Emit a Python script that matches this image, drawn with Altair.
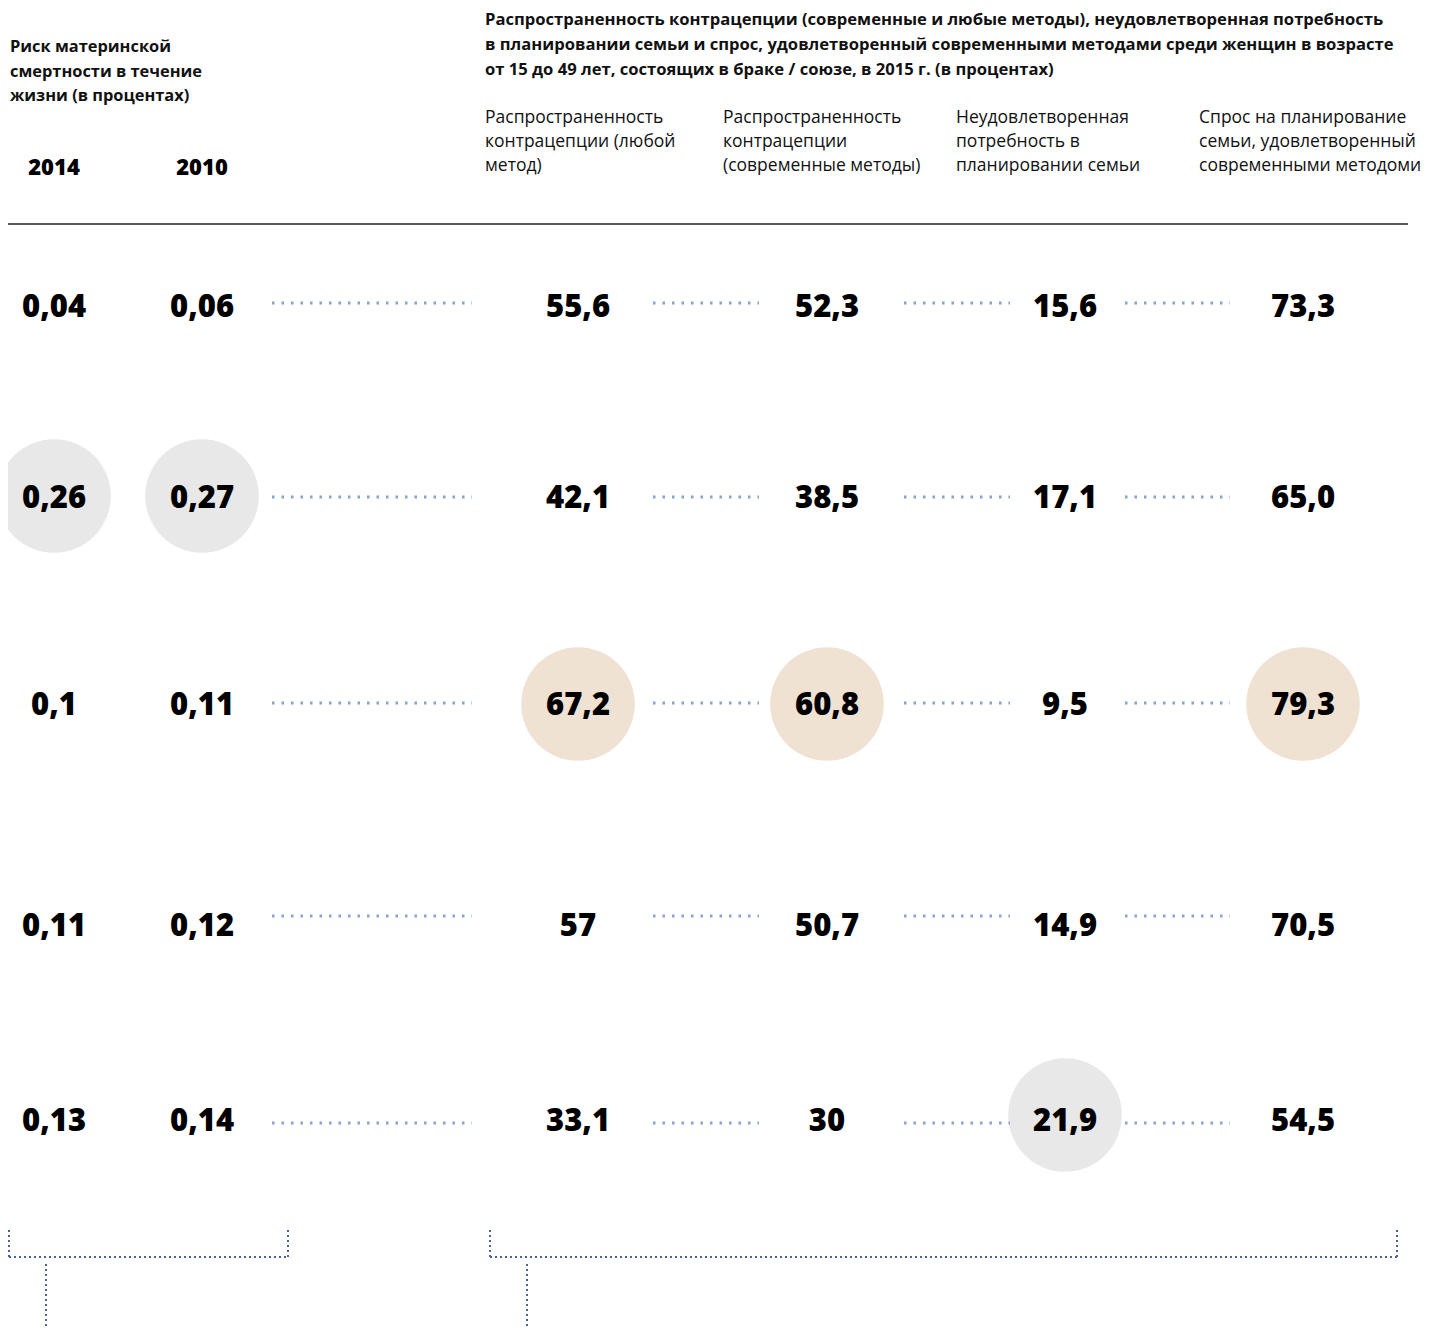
import altair as alt
import pandas as pd

# ---------------- data ----------------
COLUMNS = ["m2014", "m2010", "any", "modern", "unmet", "demand"]
ROWS = ["r1", "r2", "r3", "r4", "r5"]

m2014 = ["0,04", "0,26", "0,1", "0,11", "0,13"]
m2010 = ["0,06", "0,27", "0,11", "0,12", "0,14"]
any_method = ["55,6", "42,1", "67,2", "57", "33,1"]
modern_method = ["52,3", "38,5", "60,8", "50,7", "30"]
unmet_need = ["15,6", "17,1", "9,5", "14,9", "21,9"]
demand_met = ["73,3", "65,0", "79,3", "70,5", "54,5"]

YEAR_LABELS = ["2014", "2010"]
HIGH_IS_BAD = ["m2014", "m2010", "unmet"]   # grey highlight; others beige

LEFT_HEADER = ["Риск материнской", "смертности в течение", "жизни (в процентах)"]
RIGHT_HEADER = [
    "Распространенность контрацепции (современные и любые методы), неудовлетворенная потребность",
    "в планировании семьи и спрос, удовлетворенный современными методами среди женщин в возрасте",
    "от 15 до 49 лет, состоящих в браке / союзе, в 2015 г. (в процентах)",
]
SUB_HEADERS = [
    ["Распространенность", "контрацепции (любой", "метод)"],
    ["Распространенность", "контрацепции", "(современные методы)"],
    ["Неудовлетворенная", "потребность в", "планировании семьи"],
    ["Спрос на планирование", "семьи, удовлетворенный", "современными методоми"],
]

CONNECTOR_PAIRS = [("c1a", "c1b"), ("c2a", "c2b"), ("c3a", "c3b"), ("c4a", "c4b")]

# ---------------- layout (pixel slots, kept apart from data) ----------------
X_SLOTS = COLUMNS + [s for p in CONNECTOR_PAIRS for s in p]
X_PIX = [46, 194, 570, 819, 1057, 1295] + [264, 464, 645, 751, 896, 1002, 1117, 1222]
X_POS = dict(zip(X_SLOTS, X_PIX))
Y_TEXT = dict(zip(ROWS, [298, 489, 696, 917, 1112]))
Y_CIRC = dict(zip(ROWS, [298, 488, 696, 917, 1107]))
Y_CONN = dict(zip(ROWS, [295, 489, 695, 908, 1115]))

series = [m2014, m2010, any_method, modern_method, unmet_need, demand_met]
records = []
for col, vals in zip(COLUMNS, series):
    nums = [float(v.replace(",", ".")) for v in vals]
    mx = max(nums)
    for row, txt, n in zip(ROWS, vals, nums):
        records.append({
            "col": col, "row": row, "label": txt, "num": n,
            "hi": n == mx,
            "tone": "bad" if col in HIGH_IS_BAD else "good",
            "x": X_POS[col], "yt": Y_TEXT[row], "yc": Y_CIRC[row],
        })
df = pd.DataFrame(records)
df_hi = df[df["hi"]]

conn = pd.DataFrame([
    {"start": a, "end": b, "row": r, "x": X_POS[a], "x2": X_POS[b], "y": Y_CONN[r]}
    for r in ROWS for a, b in CONNECTOR_PAIRS
])
years = pd.DataFrame({"col": COLUMNS[:2], "label": YEAR_LABELS, "x": [X_POS[c] for c in COLUMNS[:2]]})

FONT = "Open Sans"
one = pd.DataFrame({"k": [0]})

circles = alt.Chart(df_hi).mark_circle(size=12900, opacity=1).encode(
    x=alt.X("x:Q", scale=None, axis=None),
    y=alt.Y("yc:Q", scale=None, axis=None),
    color=alt.Color("tone:N", scale=alt.Scale(domain=["bad", "good"], range=["#e8e8e8", "#f0e2d2"]), legend=None),
)

values = alt.Chart(df).mark_text(font=FONT, fontSize=31, fontWeight=800, color="#000", baseline="middle", dy=1.5).encode(
    x=alt.X("x:Q", scale=None, axis=None),
    y=alt.Y("yt:Q", scale=None, axis=None),
    text="label:N",
)

connectors = alt.Chart(conn).mark_rule(color="#86a3d1", strokeWidth=2.8, strokeDash=[2.5, 7]).encode(
    x=alt.X("x:Q", scale=None, axis=None),
    x2="x2:Q",
    y=alt.Y("y:Q", scale=None, axis=None),
)

year_text = alt.Chart(years).mark_text(font=FONT, fontSize=22, fontWeight=800, color="#000", baseline="alphabetic").encode(
    x=alt.X("x:Q", scale=None, axis=None),
    y=alt.value(167),
    text="label:N",
)

def text_block(lines, x, y, size, weight, lh):
    return alt.Chart(one).mark_text(
        text=lines, font=FONT, fontSize=size, fontWeight=weight, color="#111",
        align="left", baseline="alphabetic", lineHeight=lh,
    ).encode(x=alt.value(x), y=alt.value(y))

headers = [
    text_block(LEFT_HEADER, 2, 44, 16.4, "bold", 24.5),
    text_block(RIGHT_HEADER, 477, 17, 16.6, "bold", 25),
]
for xs, lines in zip([477, 715, 948, 1191], SUB_HEADERS):
    headers.append(text_block(lines, xs, 115, 17.5, "normal", 24))

def rule(x1, x2, y1, y2, color, width, dash=None):
    kw = dict(color=color, strokeWidth=width)
    if dash:
        kw["strokeDash"] = dash
    return alt.Chart(one).mark_rule(**kw).encode(
        x=alt.value(x1), x2=alt.value(x2), y=alt.value(y1), y2=alt.value(y2)
    )

top_line = rule(0, 1400, 216, 216, "#222", 1.5)

BR = "#4a6399"
brackets = [
    rule(1, 280, 1249, 1249, BR, 2, [2, 3]),
    rule(1, 1, 1222, 1249, BR, 2, [2, 3]),
    rule(280, 280, 1222, 1249, BR, 2, [2, 3]),
    rule(38, 38, 1256, 1321, BR, 2, [2, 3]),
    rule(482, 1389, 1249, 1249, BR, 2, [2, 3]),
    rule(482, 482, 1222, 1249, BR, 2, [2, 3]),
    rule(1389, 1389, 1222, 1249, BR, 2, [2, 3]),
    rule(519, 519, 1256, 1321, BR, 2, [2, 3]),
]

chart = alt.layer(
    circles, connectors, values, year_text, top_line, *headers, *brackets
).properties(
    width=1421, height=1321, padding=0, autosize=alt.AutoSizeParams(type="none")
).configure_view(stroke=None)

chart.save("out.html", embed_options={"renderer": "svg", "actions": False})
